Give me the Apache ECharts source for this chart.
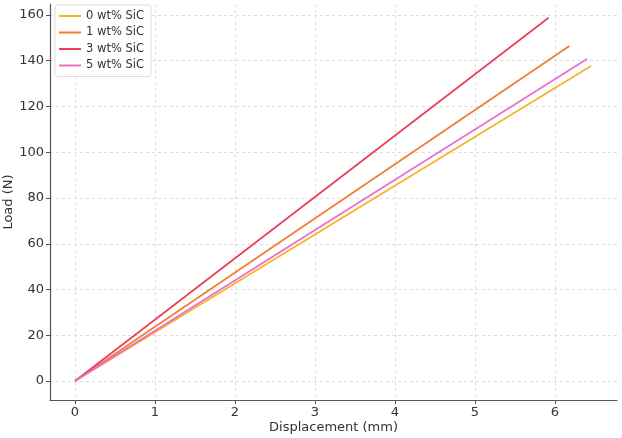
<!DOCTYPE html>
<html>
<head>
<meta charset="utf-8">
<script src="https://cdn.jsdelivr.net/npm/echarts@6/dist/echarts.min.js"></script>
<style>
  html, body { margin: 0; padding: 0; background: #fff; }
  #chart { width: 622px; height: 438px; }
</style>
</head>
<body>
<div id="chart"></div>
<script>
  // load-displacement curves, start and end points
  const seriesNames = ['0 wt% SiC', '1 wt% SiC', '3 wt% SiC', '5 wt% SiC']
  const sic0 = [[0, 0], [6.45, 137.7]]
  const sic1 = [[0, 0], [6.18, 146.4]]
  const sic3 = [[0, 0], [5.92, 158.8]]
  const sic5 = [[0, 0], [6.4, 140.8]]
  const xTicks = [0, 1, 2, 3, 4, 5, 6]
  const yTicks = [0, 20, 40, 60, 80, 100, 120, 140, 160]

  const colors = ['#f7b22a', '#ee7f33', '#e8425a', '#ea6fcb']
  const allData = [sic0, sic1, sic3, sic5]

  const chart = echarts.init(document.getElementById('chart'))

  const gridLine = { show: true, lineStyle: { color: '#d6d6d6', type: [3, 3], width: 0.8 } }

  chart.setOption({
    animation: false,
    color: colors,
    grid: { left: 50, right: 5, top: 4, bottom: 38, outerBoundsMode: 'none', containLabel: false },
    legend: {
      left: 55, top: 5,
      orient: 'vertical',
      itemWidth: 22, itemHeight: 2, itemGap: 4.5,
      padding: [5, 7, 5, 4],
      borderColor: '#ddd', borderWidth: 1, borderRadius: 3,
      backgroundColor: 'rgba(255,255,255,0.8)',
      icon: 'rect',
      textStyle: { fontFamily: 'DejaVu Sans', fontSize: 11.5, color: '#333' },
      data: seriesNames
    },
    xAxis: {
      type: 'value',
      min: -0.3125, max: 6.775,
      name: 'Displacement (mm)', nameLocation: 'middle', nameGap: 21,
      nameMoveOverlap: false,
      nameTextStyle: { fontFamily: 'DejaVu Sans', fontSize: 13, color: '#333' },
      axisLine: { onZero: false, lineStyle: { color: '#555', width: 1.2 } },
      axisTick: { show: true, length: 4, customValues: xTicks, lineStyle: { color: '#555' } },
      axisLabel: { customValues: xTicks, fontFamily: 'DejaVu Sans', fontSize: 13, color: '#333', margin: 6 },
      splitLine: gridLine
    },
    yAxis: {
      type: 'value',
      min: -8.3, max: 164.8,
      name: 'Load (N)', nameLocation: 'middle', nameGap: 35,
      nameMoveOverlap: false,
      nameTextStyle: { fontFamily: 'DejaVu Sans', fontSize: 13, color: '#333' },
      axisLine: { show: true, onZero: false, lineStyle: { color: '#555', width: 1.2 } },
      axisTick: { show: true, length: 4, customValues: yTicks, lineStyle: { color: '#555' } },
      axisLabel: { customValues: yTicks, fontFamily: 'DejaVu Sans', fontSize: 13, color: '#333', margin: 6 },
      splitLine: gridLine
    },
    series: seriesNames.map((name, i) => ({
      name: name,
      type: 'line',
      data: allData[i],
      showSymbol: false,
      lineStyle: { width: 1.8 }
    }))
  })
</script>
</body>
</html>
